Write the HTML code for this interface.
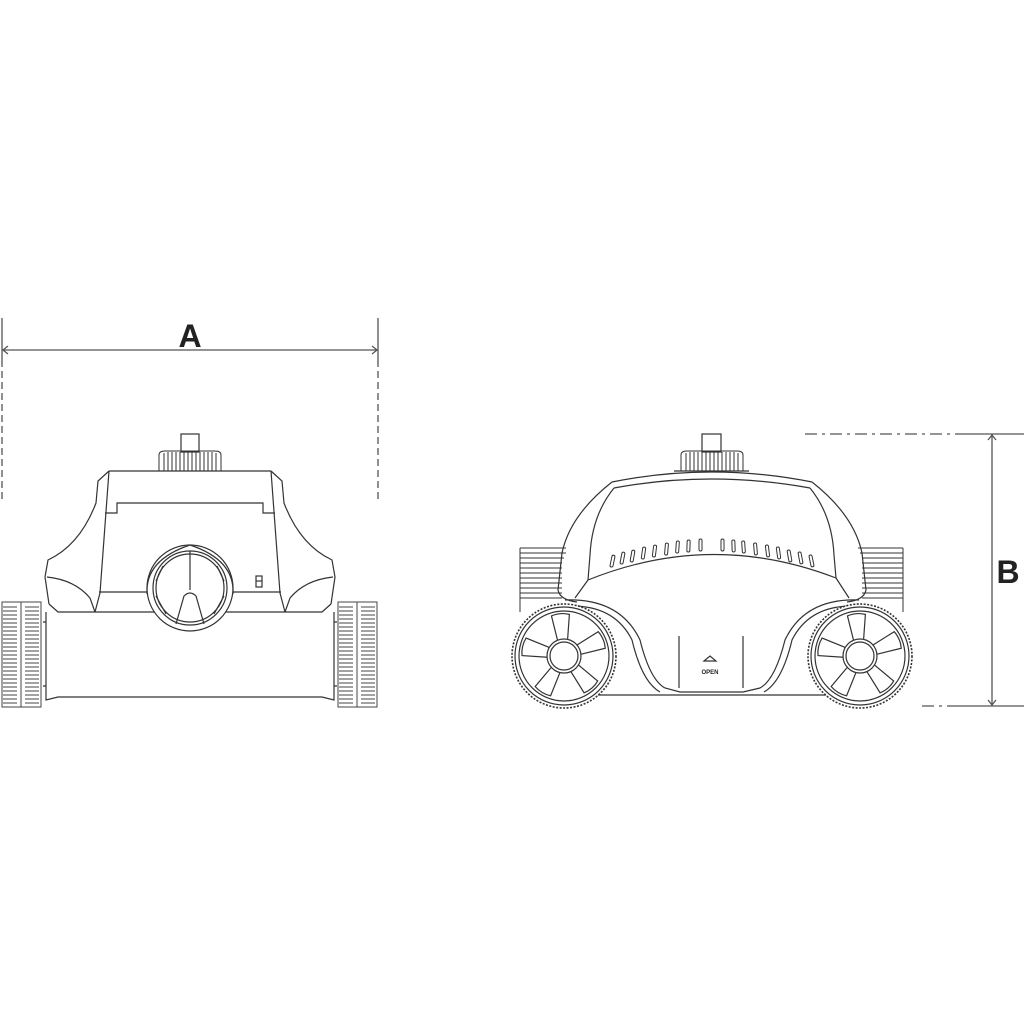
<!DOCTYPE html>
<html><head><meta charset="utf-8"><style>
html,body{margin:0;padding:0;background:#fff}
svg{display:block}
</style></head><body>
<svg width="1024" height="1024" viewBox="0 0 1024 1024" xmlns="http://www.w3.org/2000/svg">
<defs>
<g id="spoke"><path d="M-5,-16 L-9,-41 Q0,-44 9,-41 L5,-16" /></g>
<g id="wheel" fill="none" stroke="#333" stroke-width="1.2">
<circle r="52" stroke-dasharray="2 1.5" stroke-width="1.6"/>
<circle r="49"/>
<circle r="45"/>
<circle r="17"/><circle r="14"/>
<use href="#spoke" transform="rotate(-5)"/>
<use href="#spoke" transform="rotate(67)"/>
<use href="#spoke" transform="rotate(139)"/>
<use href="#spoke" transform="rotate(211)"/>
<use href="#spoke" transform="rotate(283)"/>
</g>
<g id="tread" fill="none" stroke="#444" stroke-width="1">
<path d="M2,0 H41 V105 H2 Z"/>
<path d="M21,0 V105"/>
<path d="M3,5 h14 M3,9 h14 M3,13 h14 M3,17 h14 M3,21 h14 M3,25 h14 M3,29 h14 M3,33 h14 M3,37 h14 M3,41 h14 M3,45 h14 M3,49 h14 M3,53 h14 M3,57 h14 M3,61 h14 M3,65 h14 M3,69 h14 M3,73 h14 M3,77 h14 M3,81 h14 M3,85 h14 M3,89 h14 M3,93 h14 M3,97 h14 M3,101 h14"/>
<path d="M25,5 h14 M25,9 h14 M25,13 h14 M25,17 h14 M25,21 h14 M25,25 h14 M25,29 h14 M25,33 h14 M25,37 h14 M25,41 h14 M25,45 h14 M25,49 h14 M25,53 h14 M25,57 h14 M25,61 h14 M25,65 h14 M25,69 h14 M25,73 h14 M25,77 h14 M25,81 h14 M25,85 h14 M25,89 h14 M25,93 h14 M25,97 h14 M25,101 h14"/>
</g>
<g id="knurl" fill="none" stroke="#333" stroke-width="1">
<path d="M0,20 V4 Q0,0 6,0 H56 Q62,0 62,4 V20"/>
<path d="M5,2 V20 M9,1 V20 M13,1 V20 M17,1 V20 M21,1 V20 M25,1 V20 M29,1 V20 M33,1 V20 M37,1 V20 M41,1 V20 M45,1 V20 M49,1 V20 M53,1 V20 M57,2 V20"/>
</g>
</defs>

<!-- Dimension A -->
<g stroke="#555" stroke-width="1.3" fill="none">
<path d="M2,318 V360"/><path d="M2,360 V500" stroke-dasharray="7 4"/>
<path d="M378,318 V360"/><path d="M378,360 V500" stroke-dasharray="7 4"/>
<path d="M2,350 H378"/>
<path d="M8,346 L3,350 L8,354 M372,346 L377,350 L372,354"/>
</g>
<text x="190" y="347" font-family="Liberation Sans, sans-serif" font-weight="bold" font-size="32" text-anchor="middle" fill="#222">A</text>

<!-- Dimension B -->
<g stroke="#555" stroke-width="1.3" fill="none">
<path d="M805,434 H955" stroke-dasharray="12 5 3 5"/><path d="M955,434 H1024"/>
<path d="M922,706 H955" stroke-dasharray="12 5 3 5"/><path d="M955,706 H1024"/>
<path d="M992,434 V706"/>
<path d="M988,440 L992,435 L996,440 M988,700 L992,705 L996,700"/>
</g>
<text x="1008" y="583" font-family="Liberation Sans, sans-serif" font-weight="bold" font-size="32" text-anchor="middle" fill="#222">B</text>

<!-- Left robot (front view) -->
<g fill="none" stroke="#333" stroke-width="1.2">
<rect x="181" y="434" width="18" height="18" fill="#fff"/>
<use href="#knurl" x="159" y="451"/>
<path d="M109,471 H271"/>
<path d="M109,471 L98,481 L96,503 Q80,545 48,560 L45,577 L49,604"/>
<path d="M271,471 L282,481 L284,503 Q300,545 332,560 L335,577 L331,604"/>
<path d="M109,471 L100,593 L95,612"/>
<path d="M271,471 L280,593 L285,612"/>
<path d="M105,513 H117 V503 H263 V513 H275"/>
<path d="M47,577 Q75,580 90,598 L95,612"/>
<path d="M333,577 Q305,580 290,598 L285,612"/>
<path d="M99,592 H147 M233,592 H281"/>
<path d="M49,604 L58,612 H322 L331,604"/>
<circle cx="190" cy="588" r="43" fill="#fff"/>
<path d="M147,594 Q145,560 190,545 Q235,560 233,594"/>
<circle cx="190" cy="588" r="37"/>
<circle cx="190" cy="588" r="34"/>
<path d="M190,551 V590"/>
<path d="M176,624 L184,596 Q190,590 196,596 L204,624"/>
<path d="M156,581 L163,566 M224,581 L217,566 M156,596 L166,614 M224,596 L214,614"/>
<rect x="256" y="576" width="6" height="11"/><path d="M256,581 h6"/>
<path d="M46,612 V700 L58,697 H322 L334,700 V612"/>
<path d="M43,622 H46 M43,686 H46 M334,622 H337 M334,686 H337"/>
</g>
<use href="#tread" x="0" y="602"/>
<use href="#tread" x="336" y="602"/>

<!-- Right robot (side view) -->
<g fill="none" stroke="#333" stroke-width="1.2">
<g stroke-width="1">
<path d="M520,548 H566 M520,553 H566 M520,558 H564 M520,563 H562 M520,568 H562 M520,573 H562 M520,578 H562 M520,583 H562 M520,588 H562 M520,593 H562 M520,598 H562 M520,548 V612"/>
<path d="M858,548 H903 M860,553 H903 M862,558 H903 M862,563 H903 M862,568 H903 M862,573 H903 M862,578 H903 M862,583 H903 M862,588 H903 M862,593 H903 M862,598 H903 M903,548 V612"/>
</g>
<rect x="702" y="434" width="19" height="18" fill="#fff"/>
<use href="#knurl" x="681" y="451"/>
<path d="M674,471 H749"/>
<path d="M612,482 Q711,462 812,482"/>
<path d="M614,488 Q711,470 810,488"/>
<path d="M612,482 Q570,515 562,553 L558,590 Q560,600 577,602"/>
<path d="M812,482 Q854,515 862,553 L866,590 Q864,600 847,602"/>
<path d="M614,488 Q592,515 590,555 L588,580"/>
<path d="M810,488 Q832,515 834,555 L836,578"/>
<path d="M588,580 Q712,530 836,578"/>
<path d="M588,580 L575,598 M836,578 L849,598"/>
<path d="M565,600 Q620,598 640,640 Q650,680 665,688 L680,692 H743 L760,688 Q775,680 785,640 Q805,598 859,600"/>
<path d="M572,606 Q615,606 632,640 Q642,682 660,692"/>
<path d="M852,606 Q809,606 792,640 Q782,682 764,692"/>
<path d="M540,695 H880"/>
<path d="M679,636 V688 M743,636 V688"/>
<path d="M704,661 L710,656 L716,661 Z"/>
<g stroke-width="1">
<rect x="611" y="555" width="3" height="12" rx="1.5" transform="rotate(12 612 561)"/>
<rect x="621" y="552" width="3" height="12" rx="1.5" transform="rotate(11 622 558)"/>
<rect x="631" y="550" width="3" height="12" rx="1.5" transform="rotate(10 632 556)"/>
<rect x="642" y="547" width="3" height="12" rx="1.5" transform="rotate(8 643 553)"/>
<rect x="653" y="545" width="3" height="12" rx="1.5" transform="rotate(7 654 551)"/>
<rect x="665" y="543" width="3" height="12" rx="1.5" transform="rotate(5 666 549)"/>
<rect x="676" y="541" width="3" height="12" rx="1.5" transform="rotate(4 677 547)"/>
<rect x="687" y="540" width="3" height="12" rx="1.5" transform="rotate(2 688 546)"/>
<rect x="699" y="539" width="3" height="12" rx="1.5"/>
<rect x="721" y="539" width="3" height="12" rx="1.5"/>
<rect x="732" y="540" width="3" height="12" rx="1.5" transform="rotate(-2 733 546)"/>
<rect x="742" y="541" width="3" height="12" rx="1.5" transform="rotate(-4 743 547)"/>
<rect x="754" y="543" width="3" height="12" rx="1.5" transform="rotate(-5 755 549)"/>
<rect x="766" y="545" width="3" height="12" rx="1.5" transform="rotate(-7 767 551)"/>
<rect x="777" y="547" width="3" height="12" rx="1.5" transform="rotate(-8 778 553)"/>
<rect x="788" y="550" width="3" height="12" rx="1.5" transform="rotate(-10 789 556)"/>
<rect x="799" y="552" width="3" height="12" rx="1.5" transform="rotate(-11 800 558)"/>
<rect x="810" y="555" width="3" height="12" rx="1.5" transform="rotate(-12 811 561)"/>
</g>
</g>
<text x="710" y="674" font-family="Liberation Sans, sans-serif" font-weight="bold" font-size="6" text-anchor="middle" fill="#222">OPEN</text>
<g><circle cx="564" cy="656" r="52" fill="#fff"/><use href="#wheel" x="564" y="656"/></g>
<g><circle cx="860" cy="656" r="52" fill="#fff"/><use href="#wheel" x="860" y="656"/></g>
</svg>
</body></html>
